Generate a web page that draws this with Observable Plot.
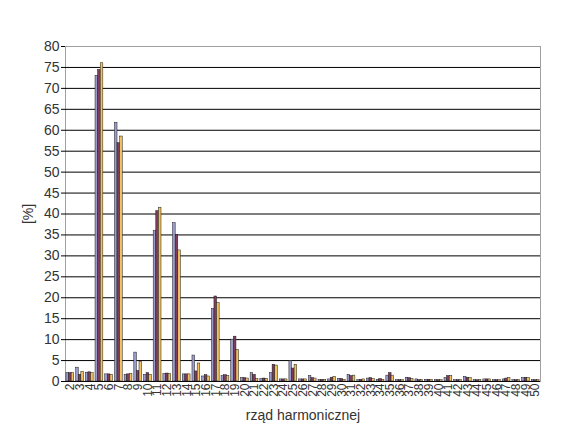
<!DOCTYPE html>
<html><head><meta charset="utf-8">
<script src="https://cdn.jsdelivr.net/npm/d3@7"></script>
<script src="https://cdn.jsdelivr.net/npm/@observablehq/plot@0.6"></script>
<style>
body{margin:0;background:#fff;}
svg{font-family:"Liberation Sans",Arial,sans-serif;}
</style>
</head><body><div id="chart"></div>
<script>
const harmonics = [2,3,4,5,6,7,8,9,10,11,12,13,14,15,16,17,18,19,20,21,22,23,24,25,26,27,28,29,30,31,32,33,34,35,36,37,38,39,40,41,42,43,44,45,46,47,48,49,50];
const seriesBlue = [2.0,3.3,2.1,73.0,1.7,61.8,1.6,6.9,1.6,35.9,1.8,37.8,1.7,6.2,1.2,17.3,1.3,10.0,0.8,2.0,0.6,2.0,0.5,4.9,0.5,1.3,0.4,0.5,0.6,1.6,0.3,0.7,0.4,1.4,0.3,0.9,0.5,0.4,0.3,0.8,0.3,1.1,0.3,0.5,0.3,0.5,0.3,0.8,0.3];
const seriesPurple = [2.0,1.6,2.2,74.4,1.7,56.9,1.7,2.5,2.0,40.7,1.9,35.0,1.7,2.4,1.5,20.3,1.5,10.7,0.8,1.6,0.7,4.0,0.5,3.1,0.5,0.8,0.4,0.9,0.6,1.3,0.4,0.8,0.6,2.0,0.3,0.8,0.3,0.4,0.3,1.3,0.3,0.9,0.3,0.5,0.3,0.7,0.3,0.9,0.3];
const seriesYellow = [2.0,2.3,2.0,76.0,1.6,58.5,1.8,4.7,1.6,41.5,1.8,31.3,1.7,4.3,1.2,18.7,1.3,7.5,0.7,0.6,0.6,3.8,0.5,4.0,0.5,0.7,0.4,1.1,0.4,1.4,0.5,0.6,0.4,1.4,0.3,0.6,0.3,0.4,0.3,1.3,0.3,0.8,0.3,0.5,0.3,0.8,0.3,0.8,0.3];
const yTicks = [0,5,10,15,20,25,30,35,40,45,50,55,60,65,70,75,80];
const colors = ["#9c9ccc","#7e3d5e","#f2c25e"];

const W = 570, H = 448, ml = 65, mr = 30, mt = 46, mb = 67;
const bw = (W - ml - mr) / harmonics.length;
const barW = 2.6;
const pad = (bw - 3 * barW) / 2;

const rows = harmonics.map((h, i) => ({h: String(h), a: seriesBlue[i], b: seriesPurple[i], c: seriesYellow[i]}));

function bars(key, i) {
  return Plot.barY(rows, {
    x: "h", y: key, fill: colors[i], stroke: "#1a1a1a", strokeWidth: 0.5,
    insetLeft: pad + i * barW, insetRight: bw - pad - (i + 1) * barW
  });
}

const chart = Plot.plot({
  width: W, height: H,
  marginLeft: ml, marginRight: mr, marginTop: mt, marginBottom: mb,
  style: {fontFamily: "'Liberation Sans', Arial, sans-serif", color: "#333", background: "#fff"},
  x: {domain: harmonics.map(String), padding: 0},
  y: {domain: [0, 80]},
  marks: [
    Plot.frame({stroke: "#a0a0a0"}),
    Plot.ruleY(yTicks.filter(t => t < 80), {stroke: "#000", strokeWidth: 1}),
    bars("a", 0), bars("b", 1), bars("c", 2),
    Plot.axisY({ticks: yTicks, tickSize: 4, tickPadding: 2, fontSize: 14, stroke: "#000",
      label: "[%]", labelAnchor: "center", labelArrow: "none", labelOffset: 42}),
    Plot.axisX({tickRotate: -90, tickSize: 0, tickPadding: 2, fontSize: 12,
      label: "rząd harmonicznej", labelAnchor: "center", labelArrow: "none", labelOffset: 38})
  ]
});
chart.querySelectorAll("[aria-label='y-axis label'] text, [aria-label='x-axis label'] text").forEach(t => t.setAttribute("font-size", 14));
document.getElementById("chart").append(chart);
</script>
</body></html>
